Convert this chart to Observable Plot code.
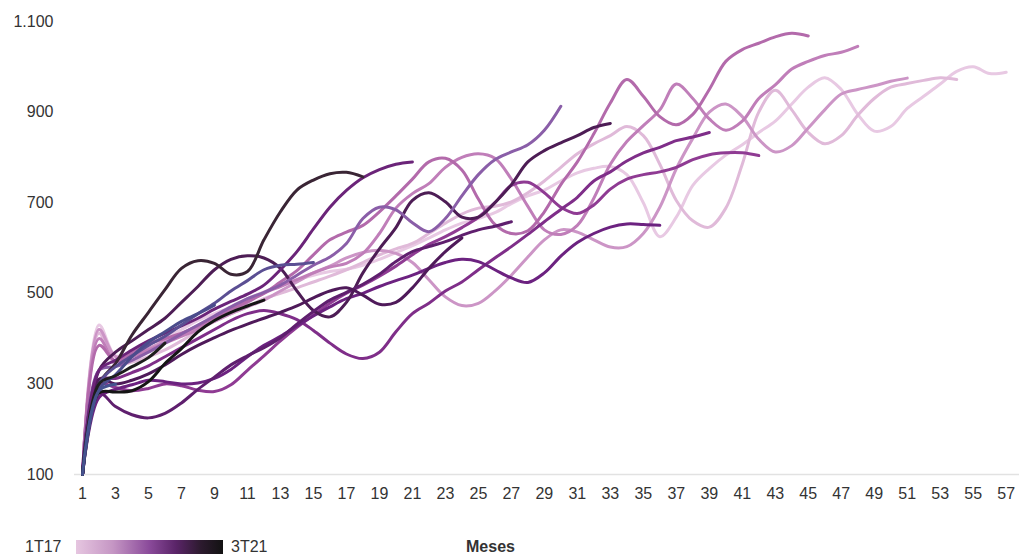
<!DOCTYPE html>
<html>
<head>
<meta charset="utf-8">
<script src="https://cdn.jsdelivr.net/npm/d3@7"></script>
<script src="https://cdn.jsdelivr.net/npm/@observablehq/plot@0.6"></script>
<style>
  html, body { margin: 0; padding: 0; background: #ffffff; }
  body { width: 1023px; height: 554px; overflow: hidden; font-family: "Liberation Sans", Arial, sans-serif; }
  #legend { position: relative; height: 39px; font-size: 16px; color: #333; }
  #legend .lab { position: absolute; top: 23px; line-height: 18px; white-space: nowrap; }
  #legend .bar { position: absolute; left: 76px; top: 25px; width: 147px; height: 14px;
    background: linear-gradient(to right, #e6c6e0 0%, #c596c4 25%, #8a4a9a 50%, #5a2468 68%, #2c1a2e 85%, #121212 100%); }
</style>
</head>
<body>
<div id="chart"></div>
<div id="legend">
  <span class="lab" style="left:25px">1T17</span>
  <div class="bar"></div>
  <span class="lab" style="left:231px">3T21</span>
  <span class="lab" style="left:466px;font-weight:bold">Meses</span>
</div>
<script>
// Cohorts (quarter of origin) and their line colours
const cohorts = ["1T17","2T17","3T17","4T17","1T18","2T18","3T18","4T18","1T19","2T19","3T19","4T19","1T20","2T20","3T20","4T20","1T21","2T21","3T21"];
const cohortColors = ["#e8c9e3","#e0bad9","#cc95c6","#c07eb9","#b36aab","#8f3b93","#7f2e89","#6c2280","#4d1d55","#8a5ea8","#5f1f6e","#4f1a5a","#6b2479","#3a2535","#5b4f93","#151515","#4b4c8c","#1e1e1e","#45528f"];

// Monthly values per cohort (month 1, 2, 3, ...)
const v1T17 = [100,430,362,372,388,402,420,440,455,470,488,503,518,530,540,548,553,562,575,590,605,622,640,655,665,678,698,715,728,748,766,776,780,762,700,625,668,738,775,805,828,855,880,918,955,976,950,895,858,868,908,935,962,990,1000,985,988];
const v2T17 = [100,412,342,348,360,375,395,418,438,455,470,488,500,512,525,538,552,568,585,598,610,632,655,675,688,692,702,722,748,778,808,830,848,868,848,785,705,660,646,688,785,900,948,905,855,830,848,893,930,955,963,970,976,972];
const v3T17 = [100,420,360,365,378,395,410,425,438,455,470,485,505,525,545,560,578,590,595,588,568,530,492,473,478,505,540,580,618,640,635,618,602,603,632,690,775,842,900,918,890,840,812,826,865,905,940,950,958,968,975];
const v4T17 = [100,400,350,360,375,390,405,420,440,458,480,500,515,530,545,558,566,588,632,688,720,742,778,800,808,798,752,692,640,630,650,710,785,835,870,905,962,930,885,860,880,930,960,995,1012,1025,1032,1045];
const v1T18 = [100,385,350,368,388,400,412,428,447,465,482,500,525,550,585,618,635,650,680,715,752,790,798,772,708,652,632,638,680,740,790,852,920,972,935,890,872,895,950,1012,1038,1052,1066,1074,1068];
const v2T18 = [100,300,292,285,290,300,296,286,283,298,330,362,395,425,452,478,500,518,538,560,585,608,625,645,668,700,738,745,722,690,676,695,730,752,762,768,778,795,806,810,810,804];
const v3T18 = [100,310,312,325,340,360,380,400,420,440,455,462,455,442,418,390,366,356,370,415,455,478,505,525,552,578,603,630,658,685,712,748,768,792,810,822,837,845,855];
const v4T18 = [100,270,288,298,308,305,300,302,312,332,360,385,405,428,450,470,488,500,515,528,540,555,568,575,570,552,534,524,545,582,612,632,646,653,652,650];
const v1T19 = [100,330,370,395,420,445,480,515,552,575,583,578,555,505,462,448,480,545,598,645,705,722,702,668,668,700,740,790,815,832,848,866,875];
const v2T19 = [100,330,338,352,370,390,410,430,450,470,488,502,518,540,562,580,610,665,690,684,656,636,665,715,762,795,812,828,860,913];
const v3T19 = [100,280,250,232,225,235,258,288,315,342,362,380,402,432,460,485,502,520,542,570,592,603,614,628,640,648,658];
const v4T19 = [100,310,300,308,322,342,365,385,402,418,432,445,458,472,490,505,512,496,476,480,512,555,592,622];
const v1T20 = [100,330,352,375,395,412,428,445,465,482,498,518,552,592,642,690,727,755,773,785,790];
const v2T20 = [100,300,345,408,458,508,555,572,566,542,548,618,680,728,750,764,767,757];
const v3T20 = [100,300,338,362,385,405,430,455,478,505,528,552,562,564,568];
const v4T20 = [100,280,282,285,305,345,378,415,440,458,472,485];
const v1T21 = [100,288,320,360,392,415,438,455,474];
const v2T21 = [100,300,318,338,358,390];
const v3T21 = [100,285,299];

const seriesValues = [v1T17,v2T17,v3T17,v4T17,v1T18,v2T18,v3T18,v4T18,v1T19,v2T19,v3T19,v4T19,v1T20,v2T20,v3T20,v4T20,v1T21,v2T21,v3T21];

// Axis ticks
const monthTicks = [1,3,5,7,9,11,13,15,17,19,21,23,25,27,29,31,33,35,37,39,41,43,45,47,49,51,53,55,57];
const valueTicks = [100,300,500,700,900,1100];

const data = [];
cohorts.forEach((c, i) => {
  seriesValues[i].forEach((v, j) => data.push({cohort: c, month: j + 1, value: v}));
});

const fmt = d3.formatLocale({decimal: ",", thousands: ".", grouping: [3], currency: ["", ""]}).format(",");

const chart = Plot.plot({
  width: 1023,
  height: 515,
  marginLeft: 82,
  marginRight: 14,
  marginTop: 21,
  marginBottom: 41,
  style: {fontFamily: "'Liberation Sans', Arial, sans-serif", fontSize: "16px", color: "#333", background: "#fff"},
  x: {domain: [1, 57.2], ticks: monthTicks, tickSize: 0, tickPadding: 13, label: null, tickFormat: d => String(d)},
  y: {domain: [100, 1100], ticks: valueTicks, tickSize: 0, tickPadding: 29, label: null, tickFormat: fmt},
  color: {domain: cohorts, range: cohortColors},
  marks: [
    Plot.ruleY([100], {stroke: "#e2e2e2", strokeWidth: 1.5, insetLeft: -8, insetRight: -10}),
    Plot.line(data, {x: "month", y: "value", z: "cohort", stroke: "cohort", strokeWidth: 3, curve: "catmull-rom", strokeLinecap: "round", strokeLinejoin: "round"})
  ]
});
document.getElementById("chart").appendChild(chart);
</script>
</body>
</html>
